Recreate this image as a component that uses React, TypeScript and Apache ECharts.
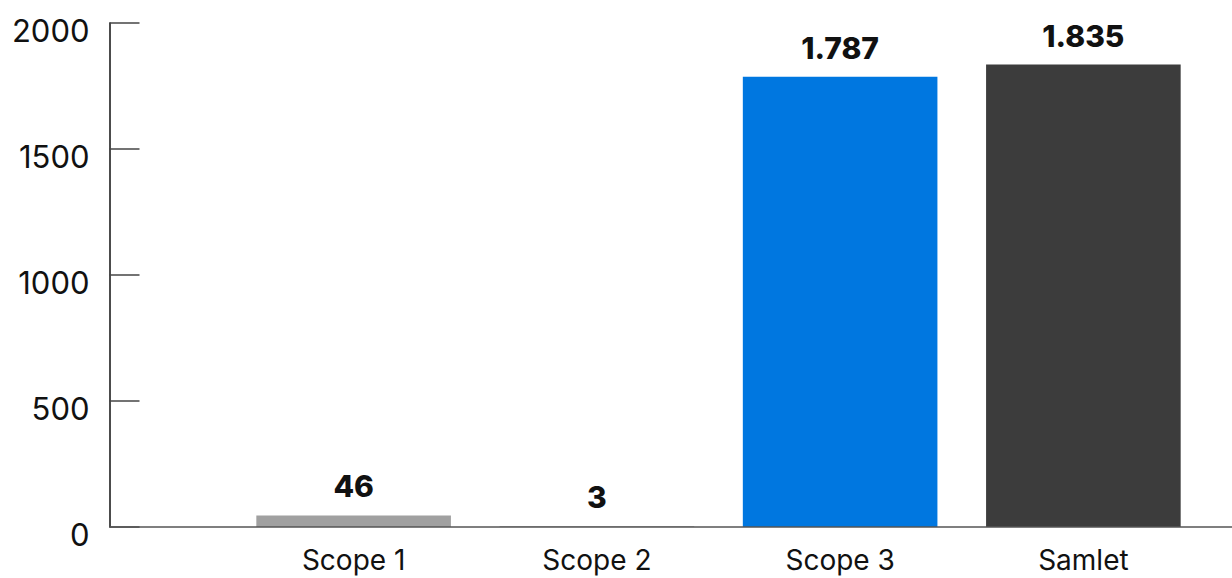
import React, { useEffect, useRef } from "react";
import * as echarts from "echarts";

const categories = ["Scope 1", "Scope 2", "Scope 3", "Samlet"];
const values = [46, 3, 1787, 1835];
const barColors = ["#a0a0a0", "#a0a0a0", "#0077e0", "#3c3c3c"];
const yTicks = [0, 500, 1000, 1500, 2000];

const FONT = "Inter, 'Noto Sans', sans-serif";

function fmtDa(v: number): string {
  const s = Math.round(v).toString();
  return s.replace(/\B(?=(\d{3})+(?!\d))/g, ".");
}

export default function App() {
  const ref = useRef<HTMLDivElement>(null);
  useEffect(() => {
    if (!ref.current) return;
    const chart = echarts.init(ref.current, null, { renderer: "svg" });
    chart.setOption({
      animation: false,
      grid: { left: 232, right: 27, top: 23, bottom: 51, containLabel: false },
      xAxis: {
        type: "category",
        data: categories,
        axisLine: { show: false },
        axisTick: { show: false },
        axisLabel: {
          color: "#111",
          fontFamily: FONT,
          fontSize: 28,
          margin: 19,
        },
      },
      yAxis: {
        type: "value",
        min: yTicks[0],
        max: yTicks[yTicks.length - 1],
        interval: yTicks[1] - yTicks[0],
        offset: 122.5,
        splitLine: { show: false },
        axisLine: { show: true, lineStyle: { color: "#111", width: 1.5 } },
        axisTick: {
          show: true,
          inside: true,
          length: 30,
          lineStyle: { color: "#444", width: 1.5 },
        },
        axisLabel: {
          color: "#111",
          fontFamily: FONT,
          fontSize: 31,
          margin: 20,
          verticalAlign: "top",
          lineHeight: 14,
          formatter: (v: number) => String(v),
        },
      },
      graphic: [
        {
          type: "line",
          shape: { x1: 109.5, y1: 527, x2: 1232, y2: 527 },
          style: { stroke: "#555", lineWidth: 1.5 },
          z: 10,
        },
      ],
      series: [
        {
          type: "bar",
          data: values.map((v, i) => ({ value: v, itemStyle: { color: barColors[i] } })),
          barCategoryGap: "20%",
          label: {
            show: true,
            position: "top",
            distance: 14,
            color: "#111",
            fontFamily: FONT,
            fontWeight: 800,
            fontSize: 30,
            formatter: (p: any) => fmtDa(p.value),
          },
        },
      ],
    });
    return () => chart.dispose();
  }, []);
  return (
    <div
      ref={ref}
      style={{ position: "fixed", left: 0, top: 0, width: 1232, height: 578, background: "#fff" }}
    />
  );
}
